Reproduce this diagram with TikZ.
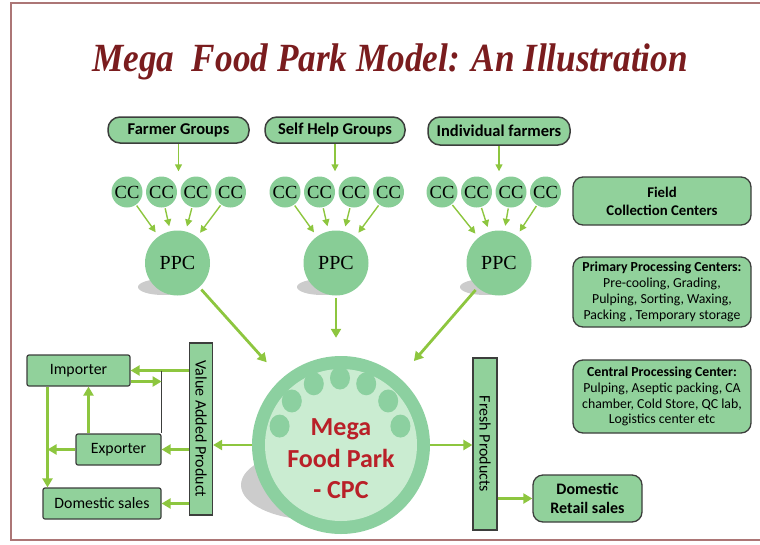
\documentclass[tikz,border=0pt]{standalone}
\usepackage{fontspec}
\setmainfont{Carlito}
\newfontfamily\timesfont{Liberation Serif}
\usetikzlibrary{arrows.meta}
\definecolor{boxgreen}{RGB}{145,209,155}
\definecolor{circgreen}{RGB}{136,205,150}
\definecolor{ringgreen}{RGB}{140,208,160}
\definecolor{innergreen}{RGB}{202,236,209}
\definecolor{arrgreen}{RGB}{141,198,63}
\definecolor{titlered}{RGB}{122,28,30}
\definecolor{cpcred}{RGB}{185,32,40}
\definecolor{framebrown}{RGB}{172,118,118}
\definecolor{edgegray}{RGB}{60,62,60}

\begin{document}
\begin{tikzpicture}[x=1pt,y=-1pt,
	grpbox/.style={draw=edgegray,line width=1.5pt,fill=boxgreen,rounded corners=12pt,minimum height=26pt,inner sep=0pt,font=\bfseries\fontsize{16.5}{18}\selectfont},
	ccnode/.style={circle,fill=circgreen,minimum size=31pt,inner sep=0pt,font=\timesfont\fontsize{18.5}{18}\selectfont},
	ppcnode/.style={circle,fill=circgreen,minimum size=65pt,inner sep=0pt,font=\timesfont\fontsize{20}{20}\selectfont},
	infobox/.style={draw=edgegray,line width=1.3pt,fill=boxgreen,rounded corners=10pt,minimum width=178pt,align=center,inner sep=0pt},
	tradebox/.style={draw=edgegray,line width=1.2pt,fill=boxgreen,rounded corners=2pt,minimum height=31pt,inner sep=0pt,font=\fontsize{15.8}{18}\selectfont},
	barbox/.style={draw=edgegray,line width=1.2pt,fill=boxgreen,minimum width=172pt,rotate=-90,inner sep=0pt,font=\fontsize{16}{18}\selectfont},
	feedarr/.style={draw=arrgreen,line width=1.4pt,-{Triangle[length=7pt,width=7pt]}},
	flowarr/.style={draw=arrgreen,line width=2.8pt,-{Triangle[length=9pt,width=10pt]}},
	castshadow/.style={fill=gray!40}]
	\useasboundingbox (0,0) rectangle (760,544);
	\draw[framebrown,line width=1.8pt] (11,3) rectangle (790,540);
	\node[text=titlered,font=\timesfont\bfseries\itshape\fontsize{40}{40}\selectfont] (title) at (390,62) {\scalebox{0.88}[1]{Mega\ \ Food Park Model: An Illustration}};

	\node[grpbox,minimum width=141pt] (grp1) at (178.5,130) {Farmer Groups};
	\node[grpbox,minimum width=140pt] (grp2) at (335,130) {Self Help Groups};
	\node[grpbox,minimum width=142pt,minimum height=28pt] (grp3) at (499,131) {Individual farmers};
	\foreach \g/\xa in {1/127,2/285,3/442}
		\foreach \i in {1,...,4}
			\node[ccnode] (cc\g\i) at ({\xa+34.5*(\i-1)},192) {CC};

	\fill[castshadow] (163,287) ellipse (25pt and 8pt);
	\fill[castshadow] (322,287) ellipse (25pt and 8pt);
	\fill[castshadow] (485,287) ellipse (25pt and 8pt);
	\node[ppcnode] (ppc1) at (177.5,263) {PPC};
	\node[ppcnode] (ppc2) at (336,263) {PPC};
	\node[ppcnode] (ppc3) at (499,263) {PPC};
	\foreach \g in {1,2,3} {
		\draw[feedarr,shorten >=5pt] (grp\g.south) -- (grp\g.south |- cc\g2.north);
		\foreach \i in {1,...,4}
			\draw[feedarr,shorten >=5pt,shorten <=1pt] (cc\g\i) -- (ppc\g);
	}

	\node[infobox,minimum height=48pt,font=\bfseries\fontsize{14.8}{18}\selectfont] (field) at (662,201) {Field\\Collection Centers};
	\node[infobox,minimum height=70pt,font=\fontsize{13.8}{15.8}\selectfont] (primary) at (662,292) {\textbf{Primary Processing Centers:}\\Pre-cooling, Grading,\\Pulping, Sorting, Waxing,\\Packing , Temporary storage};
	\node[infobox,minimum height=73pt,font=\fontsize{13.8}{15.8}\selectfont] (central) at (662,396.5) {\textbf{Central Processing Center:}\\Pulping, Aseptic packing, CA\\chamber, Cold Store, QC lab,\\Logistics center etc};

	\fill[castshadow] (316,485) ellipse (75pt and 35pt);
	\node[circle,fill=ringgreen,minimum size=178pt,inner sep=0pt] (cpc) at (341,445) {};
	\fill[innergreen] (cpc.center) circle (76pt);
	\coordinate (dotc) at (340,440);
	\foreach \a in {13,39,65,90,115,141,167}
		\fill[ringgreen] ([shift={(\a:62pt)}]dotc) ellipse (10pt and 11.5pt);
	\node[text=cpcred,align=center,font=\bfseries\fontsize{26}{31.5}\selectfont] (cpclbl) at (341,459) {Mega\\Food Park\\- CPC};
	\draw[flowarr,shorten <=3pt,shorten >=22pt] (ppc1) -- (cpc);
	\draw[flowarr,shorten <=2pt,shorten >=18pt] (ppc2) -- (ppc2 |- cpc.north);
	\draw[flowarr,shorten <=3pt,shorten >=22pt] (ppc3) -- (cpc);

	\node[barbox,minimum height=23pt] (vap) at (201,429) {Value Added Product};
	\node[barbox,minimum height=24pt] (fresh) at (485,444) {Fresh Products};
	\node[tradebox,minimum width=103pt] (imp) at (78.5,370.5) {Importer};
	\node[tradebox,minimum width=85pt] (exp) at (118.5,449.5) {Exporter};
	\node[tradebox,minimum width=118pt] (dom) at (102,503.5) {Domestic sales};
	\node[infobox,minimum width=109pt,minimum height=47pt,font=\bfseries\fontsize{16}{19.5}\selectfont] (ret) at (587.5,498.5) {Domestic\\Retail sales};

	\draw[flowarr] (cpc.west) -- (cpc.west -| vap.north);
	\draw[flowarr] (cpc.east) -- (cpc.east -| fresh.south);
	\draw[flowarr] (fresh.north |- ret.west) -- (ret.west);
	\draw[flowarr] (vap.south |- imp.east) -- (imp.east);
	\draw[flowarr] (vap.south |- exp.east) -- (exp.east);
	\draw[flowarr] (vap.south |- dom.east) -- (dom.east);
	\draw[edgegray,line width=1pt] (imp.east -| exp.north east) -- (exp.north east);
	\coordinate (impout) at ([yshift=-11pt]imp.east);
	\draw[flowarr] (impout) -- (impout -| exp.north east);
	\coordinate (expup) at ([xshift=-30pt]exp.north);
	\draw[flowarr] (expup) -- (expup |- imp.south);
	\coordinate (impdown) at ([xshift=-31pt]imp.south);
	\draw[flowarr] (impdown) -- (impdown |- dom.north);
	\draw[flowarr] (exp.west) -- (exp.west -| impdown);
\end{tikzpicture}
\end{document}
